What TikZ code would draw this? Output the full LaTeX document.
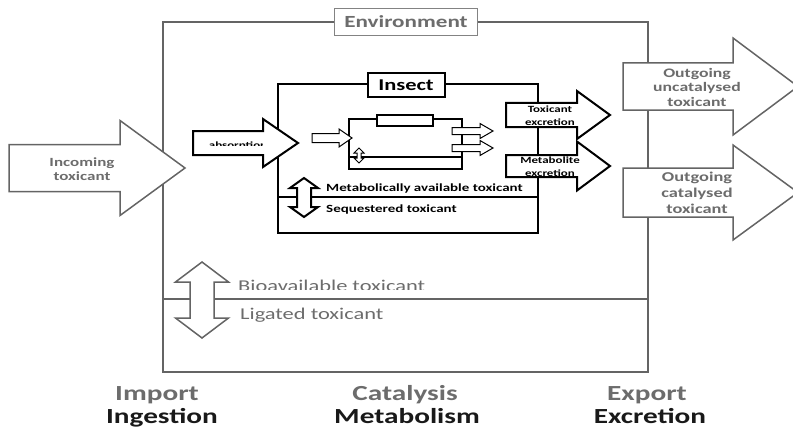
\documentclass[tikz,border=0pt]{standalone}
\usepackage{fontspec}
\setmainfont[FakeStretch=1.36]{Carlito}
\usetikzlibrary{positioning}

\definecolor{envgray}{HTML}{646464}
\definecolor{txtgray}{HTML}{6C6C6C}

% right-pointing block arrow: [style]{tail x}{head base x}{tip x}{mid y}{half shaft}{half head}
\newcommand\blockarrow[7][]{%
  \draw[#1] (#2,{#5-#6}) -- (#3,{#5-#6}) -- (#3,{#5-#7}) -- (#4,#5)
    -- (#3,{#5+#7}) -- (#3,{#5+#6}) -- (#2,{#5+#6}) -- cycle;}
% two-headed vertical block arrow: [style]{x}{top y}{bottom y}{half shaft}{half head}{head length}
\newcommand\vdblarrow[7][]{%
  \draw[#1] (#2,#3) -- ({#2+#6},{#3+#7}) -- ({#2+#5},{#3+#7}) -- ({#2+#5},{#4-#7})
    -- ({#2+#6},{#4-#7}) -- (#2,#4) -- ({#2-#6},{#4-#7}) -- ({#2-#5},{#4-#7})
    -- ({#2-#5},{#3+#7}) -- ({#2-#6},{#3+#7}) -- cycle;}

\begin{document}
\begin{tikzpicture}[x=1pt,y=-1pt,
    envline/.style={draw=envgray,line width=1.8pt},
    bugline/.style={draw=black,line width=2.4pt},
    grayarrow/.style={draw=envgray,fill=white,line width=1.5pt},
    blackarrow/.style={draw=black,fill=white,line width=2pt},
    tinyarrow/.style={draw=black,fill=white,line width=1pt},
    tag/.style={draw,fill=white,inner sep=0pt,align=center},
    graylbl/.style={text=txtgray,font=\fontsize{12.5}{14}\bfseries\selectfont,
      align=center,inner sep=0pt},
    smalllbl/.style={font=\fontsize{9.5}{12.5}\bfseries\selectfont,align=center,inner sep=0pt},
    poollbl/.style={font=\fontsize{11}{13}\bfseries\selectfont,inner sep=0pt,anchor=base west},
    envlbl/.style={text=txtgray,font=\fontsize{16.5}{19}\selectfont,inner sep=0pt,anchor=base west},
    phase/.style={text=txtgray,font=\fontsize{21.5}{24}\bfseries\selectfont,inner sep=0pt,anchor=base},
    process/.style={text=black!90,font=\fontsize{21.5}{24}\bfseries\selectfont,inner sep=0pt,anchor=base}]
  \clip (0,0) rectangle (793,428);

  % environment compartment
  \draw[envline] (163,22) rectangle (648,372);
  \draw[envline] (163,299) -- (648,299);
  \node[tag,draw=envgray!80,line width=1pt,minimum width=143,minimum height=27,
    text=txtgray,font=\fontsize{17}{20}\bfseries\selectfont] (env) at (406,22) {Environment};

  % exchange with the outside
  \blockarrow[grayarrow]{9}{120}{185}{168}{23.5}{47.5}
  \node[graylbl] (incoming) at (82,169) {Incoming\\toxicant};
  \blockarrow[grayarrow]{623}{733}{798}{86.5}{23.5}{48.5}
  \node[graylbl,font=\fontsize{13}{14.5}\bfseries\selectfont] (outunc) at (697,87) {Outgoing\\uncatalysed\\toxicant};
  \blockarrow[grayarrow]{623}{733}{798}{192.5}{24.5}{47.5}
  \node[graylbl,font=\fontsize{13.5}{16}\bfseries\selectfont] (outcat) at (697,193) {Outgoing\\catalysed\\toxicant};

  % bioavailable / ligated pools
  \vdblarrow[grayarrow]{202}{262}{338}{12}{26.5}{20}
  \begin{scope}
    \clip (230,270) rectangle (500,289);
    \node[envlbl] (bioav) at (238,291) {Bioavailable toxicant};
  \end{scope}
  \node[envlbl] (ligated) at (240,319) {Ligated toxicant};

  % insect compartment
  \draw[bugline] (278,84) rectangle (538,233);
  \draw[bugline] (278,197) -- (538,197);
  \node[tag,line width=2pt,minimum width=77,minimum height=24,
    font=\fontsize{16.5}{19}\bfseries\selectfont] (insect) at (406,85) {Insect};

  \blockarrow[blackarrow]{193}{263}{298}{143}{12}{24}
  \begin{scope}
    \clip (195,132) rectangle (262,145.5);
    \node[smalllbl] (absorb) at (238,146) {absorption};
  \end{scope}

  \blockarrow[blackarrow]{506}{577}{610}{115}{12}{24}
  \node[smalllbl] (toxexc) at (550,115.5) {Toxicant\\excretion};
  \blockarrow[blackarrow]{506}{577}{610}{166}{11}{24.5}
  \node[smalllbl] (metexc) at (550,166.5) {Metabolite\\excretion};

  \vdblarrow[blackarrow]{304}{178}{217}{7}{14}{10}
  \node[poollbl] (metab) at (326,191) {Metabolically available toxicant};
  \node[poollbl] (seq) at (326,212) {Sequestered toxicant};

  % cell level, one step further in
  \draw[line width=1.4pt] (349,119) rectangle (462,169);
  \draw[line width=1.4pt] (349,157) -- (462,157);
  \draw[tinyarrow,line width=1.3pt] (377,115) rectangle (433,126);
  \blockarrow[tinyarrow]{312}{339}{352}{138}{4.5}{9}
  \blockarrow[tinyarrow]{452}{480}{493}{131}{3.5}{7.5}
  \blockarrow[tinyarrow]{452}{480}{493}{148}{3.5}{7.5}
  \vdblarrow[tinyarrow]{359}{148}{163}{2}{5}{5}

  % phases along the bottom
  \node[phase] (import) at (157,400) {Import};
  \node[process] (ingest) at (162,423) {Ingestion};
  \node[phase] (catal) at (405,400) {Catalysis};
  \node[process] (metabol) at (407,423) {Metabolism};
  \node[phase] (export) at (647,400) {Export};
  \node[process] (excret) at (650,423) {Excretion};
\end{tikzpicture}
\end{document}
